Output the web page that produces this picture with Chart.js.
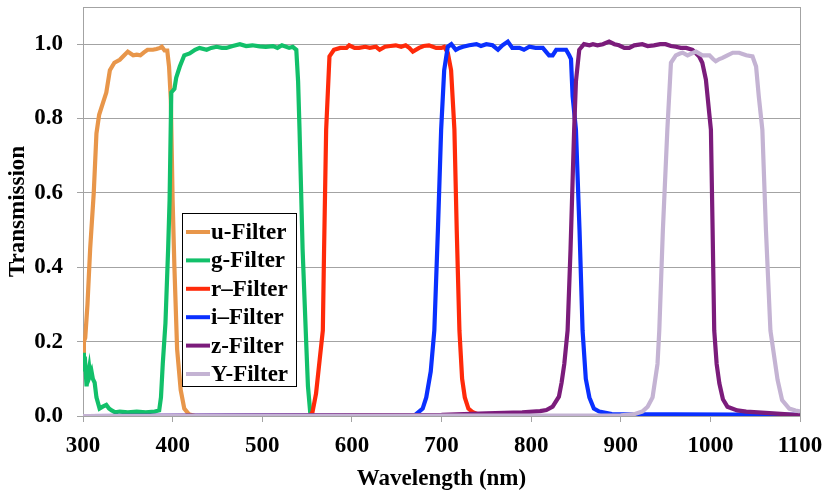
<!DOCTYPE html>
<html>
<head>
<meta charset="utf-8">
<script src="https://cdn.jsdelivr.net/npm/chart.js@4.4.1/dist/chart.umd.min.js"></script>
<style>
    html, body { margin: 0; padding: 0; background: #fff; }
    #wrap { position: relative; width: 830px; height: 496px; }
</style>
</head>
<body>
<div id="wrap"><canvas id="filterChart"></canvas></div>
<script>
// Filter names and colours
const filterNames = ['u-Filter', 'g-Filter', 'r\u2013Filter', 'i\u2013Filter', 'z-Filter', 'Y-Filter'];
const filterColors = ['#E8964A', '#12C06A', '#FF2A0A', '#0A30FF', '#7B1C7B', '#C4B3D3'];

// Wavelength (nm) / transmission
const uWave = [300, 301, 302.5, 305, 308, 312, 315, 318, 322, 326, 330, 335, 341, 346, 350, 353, 356, 360, 364, 368, 372, 378, 382, 386, 388, 391, 394, 396, 398, 400, 402, 405, 409, 413, 418, 425, 1100];
const uTrans = [0.17, 0.20, 0.21, 0.30, 0.45, 0.60, 0.76, 0.81, 0.84, 0.87, 0.93, 0.95, 0.958, 0.97, 0.98, 0.975, 0.97, 0.972, 0.97, 0.978, 0.985, 0.985, 0.987, 0.99, 0.993, 0.983, 0.983, 0.94, 0.85, 0.58, 0.40, 0.18, 0.07, 0.02, 0.005, 0, 0];

const gWave = [300, 301, 302, 304, 305, 307, 308, 309.5, 311, 313, 315, 318.5, 322, 326, 329, 332, 336, 341, 350, 360, 370, 380, 385, 387, 389, 392, 395, 396.6, 398.5, 402, 404, 408, 413, 419, 425, 430, 438, 443, 449, 455, 460, 467, 475, 482, 489, 497, 504, 512, 517, 522, 530, 534, 538, 540, 541.6, 545, 549, 551, 553.5, 556, 1100];
const gTrans = [0.17, 0.12, 0.16, 0.08, 0.10, 0.13, 0.11, 0.12, 0.10, 0.09, 0.05, 0.02, 0.025, 0.03, 0.02, 0.015, 0.01, 0.012, 0.01, 0.012, 0.01, 0.012, 0.015, 0.05, 0.14, 0.25, 0.45, 0.58, 0.87, 0.88, 0.91, 0.94, 0.97, 0.975, 0.985, 0.99, 0.985, 0.99, 0.993, 0.99, 0.99, 0.995, 1.0, 0.995, 0.997, 0.994, 0.993, 0.995, 0.99, 0.997, 0.99, 0.993, 0.985, 0.9, 0.77, 0.45, 0.2, 0.08, 0.01, 0, 0];

const rWave = [300, 553, 556, 560, 564, 567.6, 569, 571.3, 575, 580, 587, 594, 597, 603, 608, 615, 620, 627, 631, 637, 643, 649, 655, 660, 664, 668, 675, 680, 686, 694, 700, 703, 707, 710.7, 714.4, 717, 720, 723, 726, 730, 735, 745, 1100];
const rTrans = [0, 0, 0.01, 0.06, 0.15, 0.23, 0.45, 0.77, 0.967, 0.985, 0.99, 0.99, 0.997, 0.99, 0.99, 0.993, 0.99, 0.993, 0.985, 0.993, 0.995, 0.997, 0.993, 0.997, 0.99, 0.98, 0.99, 0.995, 0.997, 0.99, 0.99, 0.993, 0.977, 0.93, 0.77, 0.5, 0.23, 0.1, 0.05, 0.02, 0.01, 0, 0];

const iWave = [300, 670, 674, 679, 683, 688, 692, 696, 699.6, 703, 707, 711, 716, 720, 724, 731, 739, 744, 750, 757, 763, 768, 774, 779, 787, 792, 798, 805, 813, 820, 824, 828, 831, 839, 842.5, 844.5, 846.3, 850, 854, 857.4, 861, 865, 870, 876, 890, 1100];
const iTrans = [0, 0.002, 0.01, 0.02, 0.05, 0.12, 0.23, 0.5, 0.77, 0.93, 0.993, 1.0, 0.985, 0.99, 0.993, 0.997, 1.0, 0.995, 1.0, 0.997, 0.985, 0.997, 1.007, 0.99, 0.99, 0.985, 0.993, 0.99, 0.99, 0.97, 0.97, 0.985, 0.985, 0.985, 0.97, 0.96, 0.86, 0.77, 0.5, 0.23, 0.1, 0.05, 0.02, 0.012, 0.005, 0.003];

const zWave = [300, 700, 750, 790, 810, 817, 824, 831, 834, 837, 840.7, 844, 848, 850, 853.7, 859, 865, 869, 874, 880, 887, 893, 898, 904, 909.5, 915, 924, 930, 937, 944, 950, 956, 961.5, 967, 973, 980, 987.5, 991, 995, 998.7, 1000.6, 1002.5, 1004.3, 1007, 1010, 1014, 1019, 1030, 1040, 1070, 1095, 1100];
const zTrans = [0, 0.003, 0.007, 0.01, 0.013, 0.016, 0.025, 0.052, 0.09, 0.14, 0.23, 0.45, 0.77, 0.9, 0.985, 1.0, 0.997, 1.0, 0.997, 1.0, 1.007, 1.0, 0.997, 0.99, 0.99, 0.997, 1.0, 0.995, 0.997, 1.0, 1.0, 0.995, 0.993, 0.99, 0.99, 0.985, 0.967, 0.95, 0.905, 0.815, 0.77, 0.5, 0.23, 0.14, 0.088, 0.045, 0.025, 0.015, 0.012, 0.007, 0.003, 0.003];

const YWave = [300, 900, 915, 924, 930, 935.5, 941, 943, 947, 952, 956, 961.5, 966, 969, 974.5, 979, 984, 991, 999, 1003, 1006, 1010, 1013.5, 1019, 1025, 1032, 1040, 1047, 1051, 1054, 1058, 1062, 1067, 1075, 1080, 1088, 1095, 1100];
const YTrans = [0, 0.002, 0.005, 0.012, 0.025, 0.05, 0.14, 0.23, 0.5, 0.77, 0.95, 0.97, 0.975, 0.977, 0.97, 0.975, 0.98, 0.97, 0.97, 0.96, 0.954, 0.96, 0.963, 0.97, 0.977, 0.977, 0.97, 0.967, 0.94, 0.86, 0.77, 0.5, 0.23, 0.097, 0.043, 0.02, 0.015, 0.012];

// Tick labels
const xTickValues = [300, 400, 500, 600, 700, 800, 900, 1000, 1100];
const yTickValues = [0, 0.2, 0.4, 0.6, 0.8, 1.0];

const waves = [uWave, gWave, rWave, iWave, zWave, YWave];
const trans = [uTrans, gTrans, rTrans, iTrans, zTrans, YTrans];

const serif = "'Liberation Serif', 'Times New Roman', serif";
const gray = '#a3a3a3';

// Plot frame (top and right edges too)
const framePlugin = {
    id: 'frame',
    beforeDatasetsDraw(chart) {
        const a = chart.chartArea;
        const c = chart.ctx;
        c.save();
        c.strokeStyle = gray;
        c.lineWidth = 1;
        c.strokeRect(Math.round(a.left) + 0.5, Math.round(a.top) + 0.5, Math.round(a.right - a.left), Math.round(a.bottom - a.top));
        c.restore();
    }
};

// Boxed legend sitting inside the plot
const boxLegend = {
    id: 'boxLegend',
    afterDatasetsDraw(chart) {
        const c = chart.ctx;
        const left = 182, top = 213, w = 114, h = 173;
        c.save();
        c.fillStyle = '#fff';
        c.fillRect(left, top, w, h);
        c.strokeStyle = '#000';
        c.lineWidth = 1;
        c.strokeRect(left + 0.5, top + 0.5, w, h);
        c.font = 'bold 23px ' + serif;
        c.textBaseline = 'middle';
        c.fillStyle = '#000';
        chart.data.datasets.forEach(function(ds, i) {
            const y = top + 19 + i * 28.4;
            c.strokeStyle = ds.borderColor;
            c.lineWidth = 4;
            c.beginPath();
            c.moveTo(186, y);
            c.lineTo(210, y);
            c.stroke();
            c.fillText(ds.label, 211, y + 1);
        });
        c.restore();
    }
};

const datasets = filterNames.map(function(name, i) {
    return {
        label: name,
        data: waves[i].map(function(x, j) { return { x: x, y: trans[i][j] }; }),
        borderColor: filterColors[i],
        backgroundColor: filterColors[i],
        borderWidth: 4.2,
        pointRadius: 0,
        tension: 0,
        fill: false,
        order: filterNames.length - 1 - i
    };
});

const ctx = document.getElementById('filterChart');
new Chart(ctx.getContext('2d'), {
    type: 'line',
    data: { datasets: datasets },
    options: {
        responsive: true,
        maintainAspectRatio: false,
        animation: false,
        layout: { padding: { top: 7, right: 30, left: 0, bottom: 0 } },
        plugins: {
            legend: { display: false },
            tooltip: { enabled: false }
        },
        scales: {
            x: {
                type: 'linear',
                min: 300,
                max: 1100,
                afterBuildTicks: function(s) { s.ticks = xTickValues.map(function(v) { return { value: v }; }); },
                afterFit: function(s) { s.height = 80; s.paddingLeft = 0; s.paddingRight = 0; },
                ticks: {
                    color: '#000',
                    font: { family: serif, size: 23, weight: 'bold' },
                    padding: 10,
                    maxRotation: 0,
                    callback: function(v) { return String(v); }
                },
                grid: { drawOnChartArea: false, drawTicks: true, tickLength: 6, color: gray },
                border: { color: gray },
                title: {
                    display: true,
                    text: 'Wavelength (nm)',
                    color: '#000',
                    font: { family: serif, size: 23, weight: 'bold' },
                    padding: { top: 0, bottom: 3 }
                }
            },
            y: {
                min: 0,
                max: 1.1,
                afterBuildTicks: function(s) { s.ticks = yTickValues.map(function(v) { return { value: v }; }); },
                afterFit: function(s) { s.width = 83; s.paddingTop = 0; s.paddingBottom = 0; },
                ticks: {
                    color: '#000',
                    font: { family: serif, size: 23, weight: 'bold' },
                    padding: 14,
                    callback: function(v) { return v.toFixed(1); }
                },
                grid: { color: gray, tickLength: 6 },
                border: { color: gray },
                title: {
                    display: true,
                    text: 'Transmission',
                    color: '#000',
                    font: { family: serif, size: 23, weight: 'bold' },
                    padding: { top: 4, bottom: 0 }
                }
            }
        }
    },
    plugins: [framePlugin, boxLegend]
});
</script>
</body>
</html>
